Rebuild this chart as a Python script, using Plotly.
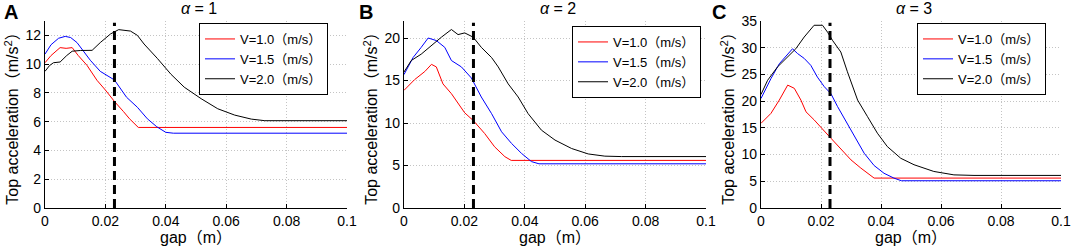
import plotly.graph_objects as go

# ---------------- data ----------------
series_names = ["V=1.0（m/s）", "V=1.5（m/s）", "V=2.0（m/s）"]
series_colors = ["#ff0000", "#0000ff", "#000000"]
panel_letters = ["A", "B", "C"]
panel_titles = ["<i>α</i> = 1", "<i>α</i> = 2", "<i>α</i> = 3"]
y_ranges = [[0, 13], [0, 22], [0, 35]]
y_dticks = [2, 5, 5]
x_ticks = [0, 0.02, 0.04, 0.06, 0.08, 0.1]
x_ticklabels = ["0", "0.02", "0.04", "0.06", "0.08", "0.1"]
x_title = "gap（m）"
y_title = "Top acceleration（m/s<sup>2</sup>）"
gap_threshold = 0.023

# alpha = 1
a1_v10_x = [0, 0.002, 0.005, 0.007, 0.009, 0.011, 0.0139, 0.0172, 0.020, 0.0231, 0.026, 0.028, 0.0309, 0.1]
a1_v10_y = [10.1, 10.6, 11.15, 11.1, 11.15, 10.6, 9.92, 8.88, 8.2, 7.38, 6.7, 6.2, 5.6, 5.6]
a1_v15_x = [0, 0.002, 0.0045, 0.0067, 0.0085, 0.0106, 0.015, 0.0183, 0.023, 0.027, 0.0306, 0.0339, 0.037, 0.040, 0.0425, 0.1]
a1_v15_y = [10.7, 11.35, 11.8, 11.93, 11.85, 11.5, 10.27, 9.5, 8.9, 7.7, 7.0, 6.2, 5.65, 5.26, 5.2, 5.2]
a1_v20_x = [0, 0.0015, 0.0028, 0.005, 0.0072, 0.009, 0.0117, 0.0156, 0.0183, 0.0217, 0.0244, 0.0283, 0.0306, 0.0328,
            0.0372, 0.0417, 0.0461, 0.0517, 0.0572, 0.0628, 0.0683, 0.0728, 0.1]
a1_v20_y = [9.5, 9.9, 10.1, 10.15, 10.6, 10.9, 10.95, 10.96, 11.5, 12.1, 12.4, 12.3, 12.0, 11.4,
            10.4, 9.3, 8.4, 7.6, 6.9, 6.46, 6.18, 6.07, 6.07]

# alpha = 2
a2_v10_x = [0, 0.0035, 0.0069, 0.0091, 0.0107, 0.0129, 0.0157, 0.0201, 0.0229, 0.0267, 0.030, 0.0334, 0.0355, 0.1]
a2_v10_y = [13.84, 15.1, 16.06, 16.9, 16.6, 14.6, 13.45, 11.2, 10.3, 8.77, 7.2, 6.04, 5.6, 5.6]
a2_v15_x = [0, 0.003, 0.0057, 0.008, 0.0107, 0.0135, 0.0157, 0.019, 0.0223, 0.0256, 0.029, 0.0323, 0.0356,
            0.0389, 0.0422, 0.0447, 0.1]
a2_v15_y = [15.7, 17.7, 18.9, 20.0, 19.7, 18.9, 17.35, 16.6, 15.3, 13.06, 11.1, 8.97, 7.6,
            6.43, 5.46, 5.2, 5.2]
a2_v20_x = [0, 0.0024, 0.0057, 0.009, 0.0124, 0.0157, 0.0179, 0.0201, 0.0229, 0.0256, 0.029, 0.0312, 0.0345,
            0.0378, 0.0411, 0.0455, 0.050, 0.0555, 0.061, 0.0665, 0.072, 0.1]
a2_v20_y = [16.0, 17.35, 18.1, 19.1, 20.1, 21.0, 20.4, 20.6, 20.1, 18.9, 17.7, 16.6, 14.6,
            13.06, 11.1, 9.16, 7.99, 7.0, 6.36, 6.1, 6.05, 6.05]

# alpha = 3
a3_v10_x = [0, 0.0033, 0.0061, 0.0089, 0.0111, 0.0133, 0.015, 0.0177, 0.0211, 0.0233, 0.0266, 0.030, 0.0333,
            0.0377, 0.1]
a3_v10_y = [15.85, 17.7, 20.2, 23.0, 22.4, 20.2, 18.0, 16.5, 14.4, 13.05, 10.9, 9.0, 7.46,
            5.6, 5.6]
a3_v15_x = [0, 0.0033, 0.0061, 0.0089, 0.0105, 0.0122, 0.0144, 0.0166, 0.0188, 0.0211, 0.0233, 0.0255, 0.0277,
            0.031, 0.0344, 0.0377, 0.041, 0.0443, 0.0468, 0.1]
a3_v15_y = [20.5, 24.2, 27.0, 28.9, 29.8, 28.9, 28.0, 26.7, 24.5, 22.7, 21.4, 19.0, 16.8,
            13.4, 10.25, 7.95, 6.5, 5.6, 5.1, 5.1]
a3_v20_x = [0, 0.0022, 0.0055, 0.0089, 0.0116, 0.0144, 0.0177, 0.0205, 0.0222, 0.0238, 0.0266, 0.0288, 0.0322,
            0.0355, 0.0388, 0.0421, 0.0466, 0.051, 0.0576, 0.0643, 0.071, 0.1]
a3_v20_y = [21.25, 23.9, 26.4, 28.3, 29.8, 32.0, 34.2, 34.2, 32.9, 31.4, 29.2, 25.5, 20.2,
            17.1, 14.0, 11.5, 9.3, 8.1, 6.84, 6.2, 6.1, 6.1]

panels = [
    [(a1_v10_x, a1_v10_y), (a1_v15_x, a1_v15_y), (a1_v20_x, a1_v20_y)],
    [(a2_v10_x, a2_v10_y), (a2_v15_x, a2_v15_y), (a2_v20_x, a2_v20_y)],
    [(a3_v10_x, a3_v10_y), (a3_v15_x, a3_v15_y), (a3_v20_x, a3_v20_y)],
]

# ---------------- layout geometry (pixels) ----------------
W, H = 1072, 250
x_px = [(45, 347), (404, 706), (761, 1061)]
y_px = (21, 208)  # top, bottom
legend_px = [(328, 23), (701, 26), (1046, 23)]  # right, top
letter_px = [(2, 11.5), (357, 11.5), (710, 11.5)]  # left, vertical centre

FONT = "Liberation Sans, Arial, Noto Sans CJK JP"

fig = go.Figure()
layout = dict(
    width=W, height=H,
    margin=dict(l=0, r=0, t=0, b=0),
    paper_bgcolor="white", plot_bgcolor="white",
    font=dict(family=FONT, size=14, color="black"),
    annotations=[], shapes=[],
)

for p in range(3):
    xa = "x" if p == 0 else f"x{p+1}"
    ya = "y" if p == 0 else f"y{p+1}"
    lg = "legend" if p == 0 else f"legend{p+1}"
    for s in range(3):
        xs, ys = panels[p][s]
        fig.add_trace(go.Scatter(
            x=xs, y=ys, mode="lines", name=series_names[s],
            line=dict(color=series_colors[s], width=1),
            xaxis=xa, yaxis=ya, legend=lg, showlegend=True,
        ))
    x0, x1 = x_px[p]
    dom_x = [x0 / W, x1 / W]
    dom_y = [1 - y_px[1] / H, 1 - y_px[0] / H]
    axis_common = dict(
        showline=True, linecolor="black", linewidth=1.2,
        ticks="inside", ticklen=4, tickcolor="black", tickwidth=1,
        showgrid=True, gridcolor="#c4c4c4", griddash="1px,2px", gridwidth=1,
        zeroline=False, mirror=False, automargin=False,
        tickfont=dict(family=FONT, size=14),
    )
    layout[f"xaxis{'' if p == 0 else p+1}"] = dict(
        axis_common, domain=dom_x, range=[0, 0.1], anchor=ya,
        tickvals=x_ticks, ticktext=x_ticklabels,
        title=dict(text=x_title, font=dict(family=FONT, size=16), standoff=0),
    )
    layout[f"yaxis{'' if p == 0 else p+1}"] = dict(
        axis_common, domain=dom_y, range=y_ranges[p], anchor=xa,
        dtick=y_dticks[p], tick0=0,
        title=dict(text=y_title, font=dict(family=FONT, size=16), standoff=2),
    )
    lx, ly = legend_px[p]
    layout[lg] = dict(
        x=lx / W, y=1 - ly / H, xanchor="right", yanchor="top",
        bgcolor="white", bordercolor="black", borderwidth=1,
        font=dict(family=FONT, size=13), tracegroupgap=0,
        itemwidth=30,
    )
    # dashed threshold line
    layout["shapes"].append(dict(
        type="line", xref=xa, yref=f"{ya} domain", x0=gap_threshold, x1=gap_threshold,
        y0=0, y1=0.99, line=dict(color="black", width=3, dash="9px,5px"),
    ))
    # panel title
    layout["annotations"].append(dict(
        text=panel_titles[p], xref="paper", yref="paper",
        x=((x0 + x1) / 2 + 3) / W, y=1 - 8 / H, xanchor="center", yanchor="middle",
        showarrow=False, font=dict(family=FONT, size=16),
    ))
    # panel letter
    lxp, lyp = letter_px[p]
    layout["annotations"].append(dict(
        text=f"<b>{panel_letters[p]}</b>", xref="paper", yref="paper",
        x=lxp / W, y=1 - lyp / H, xanchor="left", yanchor="middle",
        showarrow=False, font=dict(family="Liberation Sans", size=20),
    ))

fig.update_layout(**layout)
fig.write_html(
    "out.html",
    config={"displayModeBar": False},
    post_script="document.body.style.margin='0px';document.body.style.overflow='hidden';",
)
